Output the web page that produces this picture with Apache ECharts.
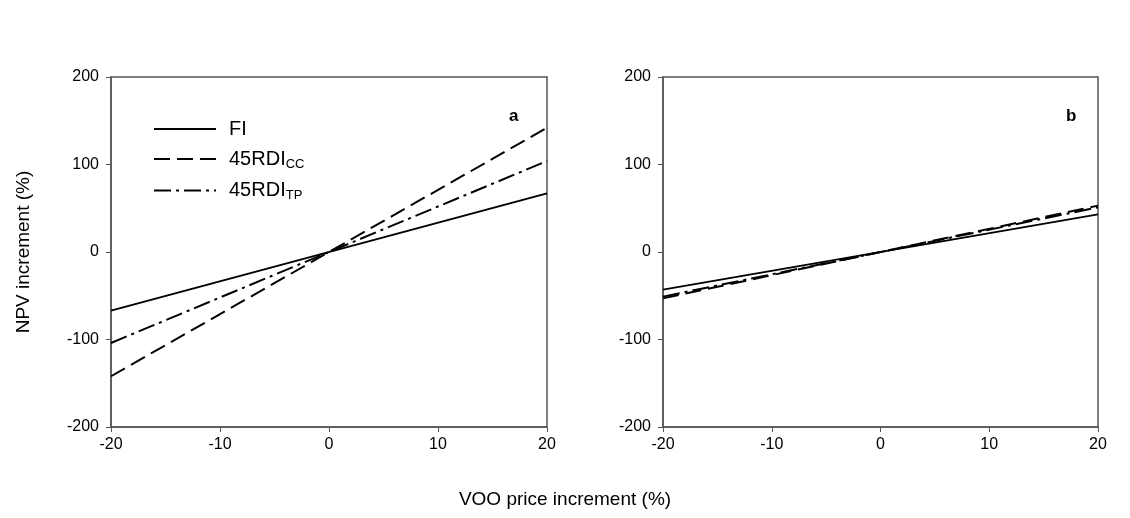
<!DOCTYPE html>
<html>
<head>
<meta charset="utf-8">
<script src="https://cdn.jsdelivr.net/npm/echarts@6/dist/echarts.min.js"></script>
<style>
  html, body { margin: 0; padding: 0; background: #fff; }
  #chart { width: 1130px; height: 518px; }
</style>
</head>
<body>
<div id="chart"></div>
<script>
// x values at the two ends of every line
const priceX = [-20, 20];

// panel a
const fiA = [-67, 67];
const ccA = [-142, 142];
const tpA = [-104, 104];

// panel b
const fiB = [-43, 43];
const ccB = [-53, 53];
const tpB = [-51, 51];

const xTicks = [-20, -10, 0, 10, 20];
const yTicks = [-200, -100, 0, 100, 200];

const font = "'Liberation Sans', Arial, sans-serif";
const axisGray = "#555";

const pairs = (ys) => priceX.map((x, i) => [x, ys[i]]);

const dashStyles = {
  FI: "solid",
  CC: [16, 7],
  TP: [17, 5, 3, 5],
};

const makeX = (gridIndex) => ({
  type: "value",
  gridIndex,
  min: xTicks[0],
  max: xTicks[xTicks.length - 1],
  interval: 10,
  axisLine: { show: true, onZero: false, lineStyle: { color: axisGray, width: 1.5 } },
  axisTick: { show: true, length: 5, lineStyle: { color: axisGray } },
  axisLabel: { color: "#000", fontSize: 16, fontFamily: font, margin: 10 },
  splitLine: { show: false },
});

const makeY = (gridIndex) => ({
  type: "value",
  gridIndex,
  min: yTicks[0],
  max: yTicks[yTicks.length - 1],
  interval: 100,
  axisLine: { show: true, onZero: false, lineStyle: { color: axisGray, width: 1.5 } },
  axisTick: { show: true, length: 5, lineStyle: { color: axisGray } },
  axisLabel: { color: "#000", fontSize: 16, fontFamily: font, margin: 12 },
  splitLine: { show: false },
});

const makeLine = (name, ys, dash, idx) => ({
  name,
  type: "line",
  xAxisIndex: idx,
  yAxisIndex: idx,
  data: pairs(ys),
  symbol: "none",
  silent: true,
  animation: false,
  color: "#000",
  lineStyle: { color: "#000", width: 2, type: dash },
});

const chart = echarts.init(document.getElementById("chart"));

const yA = makeY(0);
yA.name = "NPV increment (%)";
yA.nameLocation = "middle";
yA.nameGap = 78;
yA.nameTextStyle = { color: "#000", fontSize: 19, fontFamily: font };

chart.setOption({
  backgroundColor: "#fff",
  animation: false,
  grid: [
    { left: 111, top: 77, width: 436, height: 350, show: true, borderColor: axisGray, borderWidth: 1.5 },
    { left: 663, top: 77, width: 435, height: 350, show: true, borderColor: axisGray, borderWidth: 1.5 },
  ],
  xAxis: [makeX(0), makeX(1)],
  yAxis: [yA, makeY(1)],
  title: [
    { text: "a", left: 504, top: 103, textStyle: { fontSize: 17, fontWeight: "bold", fontFamily: font, color: "#000" } },
    { text: "b", left: 1061, top: 103, textStyle: { fontSize: 17, fontWeight: "bold", fontFamily: font, color: "#000" } },
    { text: "VOO price increment (%)", left: "center", top: 485, textStyle: { fontSize: 19, fontWeight: "normal", fontFamily: font, color: "#000" } },
  ],
  legend: {
    orient: "vertical",
    left: 153,
    top: 119,
    padding: 0,
    itemWidth: 62,
    itemHeight: 16,
    itemGap: 10,
    itemStyle: { opacity: 0 },
    lineStyle: { width: 2 },
    data: ["FI", "45RDI_CC", "45RDI_TP"],
    formatter: (name) => {
      const parts = name.split("_");
      return parts.length > 1 ? parts[0] + "{sub|" + parts[1] + "}" : name;
    },
    textStyle: {
      color: "#000",
      fontSize: 20,
      fontFamily: font,
      padding: [0, 0, 0, 8],
      rich: {
        sub: { fontSize: 13, fontFamily: font, color: "#000", verticalAlign: "bottom", padding: [10, 0, 0, 0] },
      },
    },
  },
  series: [
    makeLine("FI", fiA, dashStyles.FI, 0),
    makeLine("45RDI_CC", ccA, dashStyles.CC, 0),
    makeLine("45RDI_TP", tpA, dashStyles.TP, 0),
    makeLine("FI", fiB, dashStyles.FI, 1),
    makeLine("45RDI_CC", ccB, dashStyles.CC, 1),
    makeLine("45RDI_TP", tpB, dashStyles.TP, 1),
  ],
});
</script>
</body>
</html>
